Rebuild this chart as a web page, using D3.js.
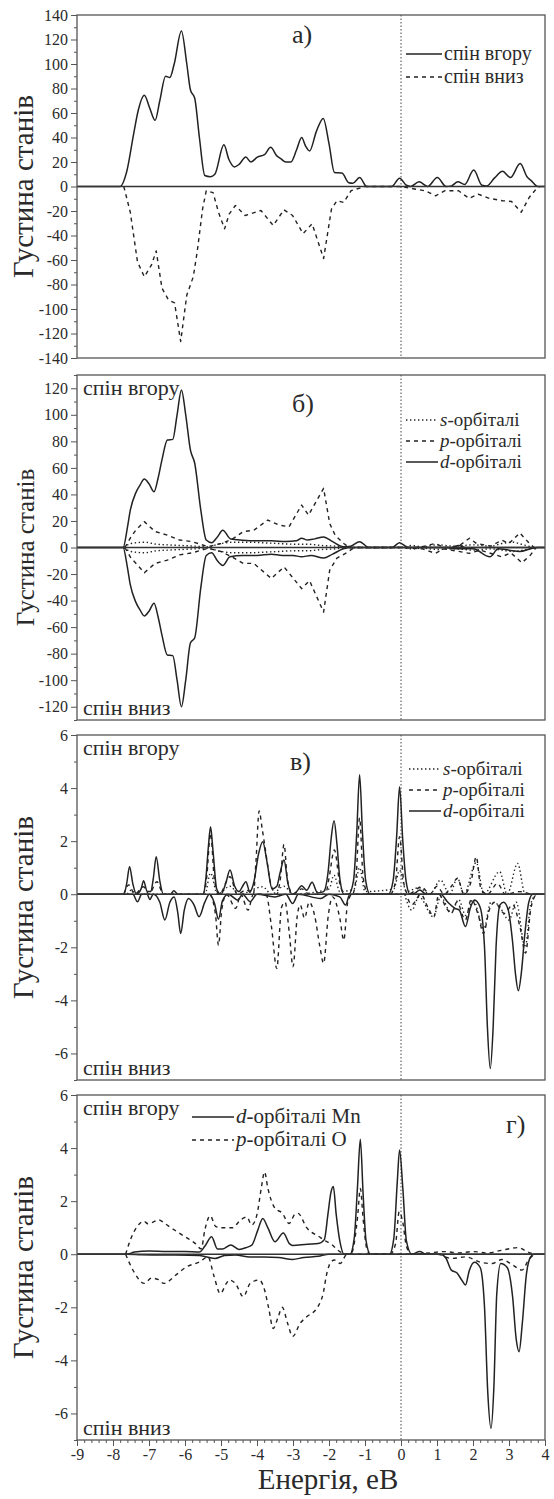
<!DOCTYPE html>
<html><head><meta charset="utf-8">
<script src="https://cdn.jsdelivr.net/npm/d3@7"></script>
<style>
body{margin:0;background:#fff}
svg{display:block}
text{font-family:"Liberation Serif","Times New Roman",serif;fill:#2a2a2a}
</style>
</head><body>
<svg id="c" width="554" height="1499"></svg>
<script>
// ---------------- DATA ----------------
const energyTicks = [-9,-8,-7,-6,-5,-4,-3,-2,-1,0,1,2,3,4];
const yTicksA = [-140,-120,-100,-80,-60,-40,-20,0,20,40,60,80,100,120,140];
const yTicksB = [-120,-100,-80,-60,-40,-20,0,20,40,60,80,100,120];
const yTicksC = [-6,-4,-2,0,2,4,6];

// Panel а) total DOS
const aUp = [[-9,0],[-7.8,0],[-7.62,12],[-7.42,44],[-7.3,62],[-7.13,74.5],[-6.98,64],[-6.83,54],[-6.7,70],[-6.54,90],[-6.42,89],[-6.3,100],[-6.1,127],[-5.95,100],[-5.85,79],[-5.73,72],[-5.6,40],[-5.45,9],[-5.3,8],[-5.17,10],[-4.92,34],[-4.78,22],[-4.63,16],[-4.5,18],[-4.31,24],[-4.17,20],[-3.99,24],[-3.79,26],[-3.62,32],[-3.45,25],[-3.35,23],[-3.2,20],[-3.06,20],[-2.9,30],[-2.76,40],[-2.65,33],[-2.54,29],[-2.35,45],[-2.16,55.6],[-2.0,35],[-1.85,11.5],[-1.64,11],[-1.45,3],[-1.34,2.6],[-1.15,7.3],[-0.95,0],[-0.26,0],[-0.04,6.8],[0.15,1],[0.27,0],[0.5,3.8],[0.74,0],[1.01,7.3],[1.25,0],[1.4,0.5],[1.58,3.8],[1.77,1.6],[2.02,13.4],[2.25,1],[2.38,0.5],[2.6,7],[2.82,12.4],[3.04,7.3],[3.31,18.7],[3.5,8],[3.61,5],[3.8,0],[4,0]];
const aDown = [[-7.7,0],[-7.52,-21],[-7.32,-61.5],[-7.13,-73.7],[-6.93,-64],[-6.8,-52.6],[-6.64,-83],[-6.46,-92.6],[-6.29,-95],[-6.12,-126.5],[-5.95,-88.6],[-5.77,-73.7],[-5.66,-53],[-5.51,-18],[-5.41,-3.5],[-5.22,-5],[-5.07,-21],[-4.9,-34.5],[-4.77,-22.3],[-4.6,-15.5],[-4.33,-23.7],[-3.89,-19.6],[-3.55,-31.8],[-3.25,-19],[-3.01,-23.7],[-2.72,-38.5],[-2.47,-30.4],[-2.15,-58.8],[-1.93,-18.2],[-1.78,-11.6],[-1.59,-13],[-1.39,-3.5],[-1.25,-2.2],[-1.0,0],[0,0],[0.37,-2],[0.67,-3.5],[0.96,-7.6],[1.21,-3.5],[1.6,-3.5],[1.89,-9.7],[2.14,-6.2],[2.43,-9.5],[2.82,-11.6],[3.07,-12.2],[3.34,-21],[3.56,-9],[3.75,-2.2],[3.85,0]];

// Panel б) Mn orbitals
const bDUp = [[-9,0],[-7.72,0],[-7.6,15],[-7.52,28],[-7.37,41],[-7.25,47],[-7.13,51.6],[-7.0,48],[-6.86,42],[-6.75,52],[-6.64,66],[-6.49,81],[-6.34,81.5],[-6.22,100],[-6.1,118.7],[-5.98,100],[-5.85,73.5],[-5.73,63.5],[-5.56,28],[-5.41,5.6],[-5.26,3.6],[-5.1,8],[-4.95,13],[-4.73,6.4],[-4.4,5.5],[-4.0,5],[-3.6,5],[-3.2,4.5],[-2.91,5],[-2.76,7],[-2.6,5.6],[-2.4,6.5],[-2.15,8],[-1.9,4.4],[-1.6,0.6],[-1.4,1],[-1.15,4.4],[-0.9,0],[-0.25,0],[-0.04,3.6],[0.2,0],[1.4,0],[1.6,1.5],[1.8,0],[4,0]];
const bDDown = [[-9,0],[-7.72,0],[-7.6,-15],[-7.52,-28],[-7.37,-41],[-7.25,-47],[-7.13,-51.6],[-7.0,-48],[-6.86,-42],[-6.75,-52],[-6.64,-66],[-6.49,-81],[-6.34,-81.5],[-6.22,-100],[-6.1,-120],[-5.98,-100],[-5.85,-72],[-5.73,-68],[-5.56,-30],[-5.41,-6],[-5.26,-4],[-5.1,-10],[-4.95,-13.5],[-4.75,-7],[-4.4,-6],[-4.0,-6],[-3.6,-5],[-3.3,-6],[-3.0,-6],[-2.76,-7],[-2.5,-6],[-2.15,-8],[-1.9,-5],[-1.6,-1],[-1.4,0],[1.2,0],[1.6,-1],[2.0,-1],[2.47,-7],[2.7,-1],[3.0,-2],[3.3,-3],[3.6,-1],[3.8,0],[4,0]];
const bPUp = [[-7.67,0],[-7.5,8],[-7.37,13],[-7.13,19.5],[-6.83,12],[-6.49,9.3],[-6.15,5.6],[-5.8,4.4],[-5.36,0.6],[-5.0,3],[-4.7,6],[-4.38,12],[-4.09,13],[-3.7,20.7],[-3.4,17],[-3.11,15.6],[-2.76,32],[-2.57,24.4],[-2.15,44.6],[-1.98,18],[-1.83,9.3],[-1.59,3],[-1.44,0],[0,0],[0.5,0],[0.95,3],[1.2,0],[1.6,1],[1.9,7],[2.1,3],[2.5,1],[2.8,5.6],[3.0,3],[3.3,11],[3.55,3.6],[3.7,0]];
const bPDown = [[-7.67,0],[-7.5,-8],[-7.32,-13.2],[-7.13,-19],[-6.83,-12],[-6.49,-9.5],[-6.15,-5.6],[-5.8,-4],[-5.36,-0.6],[-5.0,-3],[-4.7,-7],[-4.38,-12],[-4.09,-12],[-3.6,-23.4],[-3.25,-14.6],[-2.76,-31],[-2.54,-25],[-2.15,-48.7],[-1.98,-17],[-1.78,-8],[-1.54,-4.4],[-1.3,0],[0,0],[0.6,-1],[0.95,-4.4],[1.2,-1],[1.9,-4.4],[2.2,-2],[2.8,-7],[3.05,-4],[3.36,-11.5],[3.6,-5.6],[3.75,0]];
const bSUp = [[-7.7,0],[-7.5,3],[-7.13,4],[-6.8,2.5],[-6.5,2],[-6.1,1.5],[-5.7,1],[-5.4,0.5],[-5.0,3],[-4.6,4],[-4.2,4],[-3.8,3.5],[-3.4,3],[-3.0,2.5],[-2.6,2.5],[-2.2,1.5],[-1.8,1],[-1.5,0],[0,0],[0.3,1.5],[0.6,0.5],[1.0,2],[1.5,1],[2.0,2],[2.5,1],[2.8,3],[3.1,4],[3.4,2],[3.7,0]];
const bSDown = [[-7.7,0],[-7.5,-3],[-7.13,-4],[-6.8,-2.5],[-6.5,-2],[-6.1,-1.5],[-5.7,-1],[-5.4,-0.5],[-5.0,-3],[-4.6,-4],[-4.2,-4],[-3.8,-3.5],[-3.4,-3],[-3.0,-2.5],[-2.6,-2.5],[-2.2,-1.5],[-1.8,-1],[-1.5,0],[0,0],[0.3,-1],[0.6,-0.5],[1.0,-1.5],[1.5,-1],[2.0,-2],[2.5,-1],[2.8,-2],[3.1,-3],[3.4,-2],[3.7,0]];

// Panel в) O orbitals
const cDUp = [[-9,0],[-7.7,0],[-7.62,0.4],[-7.54,1.04],[-7.45,0.4],[-7.35,0],[-7.22,0.2],[-7.15,0.51],[-7.05,0.1],[-6.95,0.1],[-6.88,0.6],[-6.8,1.41],[-6.7,0.5],[-6.6,0],[-6.4,0],[-6.31,0.13],[-6.2,0],[-5.5,0],[-5.42,0.6],[-5.35,1.8],[-5.29,2.54],[-5.22,1.6],[-5.12,0.2],[-5.0,0],[-4.87,0.4],[-4.75,0.91],[-4.62,0.3],[-4.5,0.1],[-4.4,0.3],[-4.31,0.47],[-4.2,0.1],[-4.08,0.5],[-3.96,1.5],[-3.84,1.98],[-3.72,1.2],[-3.58,0.2],[-3.45,0.3],[-3.36,0.8],[-3.25,1.29],[-3.14,0.4],[-3.02,0],[-2.9,0.1],[-2.76,0.32],[-2.62,0.15],[-2.47,0.45],[-2.32,0.05],[-2.15,0.1],[-2.02,0.9],[-1.94,2.1],[-1.86,2.77],[-1.78,1.9],[-1.7,0.6],[-1.58,0],[-1.45,0],[-1.32,0.5],[-1.23,2.3],[-1.15,4.5],[-1.07,2.3],[-0.98,0.5],[-0.86,0],[-0.35,0],[-0.22,0.5],[-0.12,2.2],[-0.04,4.05],[0.05,2.0],[0.14,0.5],[0.25,0],[0.4,0.05],[0.52,0.16],[0.7,0],[4,0]];
const cDDown = [[-9,0],[-7.45,0],[-7.32,-0.28],[-7.2,0],[-7.05,0],[-6.98,-0.2],[-6.88,0],[-6.7,-0.3],[-6.56,-0.97],[-6.42,-0.3],[-6.3,-0.1],[-6.2,-0.7],[-6.12,-1.48],[-6.02,-0.6],[-5.9,-0.16],[-5.75,-0.4],[-5.61,-0.85],[-5.45,-0.3],[-5.32,0],[-5.18,-0.35],[-5.07,-0.94],[-4.96,-0.25],[-4.8,0],[-4.53,-0.22],[-4.4,0],[-4.19,-0.28],[-4.0,0],[-3.5,-0.1],[-3.2,0],[-3.01,-0.35],[-2.85,0],[-2.23,-0.16],[-2.0,0],[-1.7,-0.1],[-1.54,-0.41],[-1.42,0],[1.1,0],[1.3,-0.3],[1.5,-0.53],[1.62,-0.6],[1.79,-1.22],[1.93,-0.5],[2.04,-0.22],[2.2,-0.5],[2.32,-2],[2.4,-5],[2.48,-6.57],[2.56,-5],[2.64,-2],[2.75,-0.4],[2.85,-0.3],[2.98,-0.6],[3.1,-1.8],[3.18,-3],[3.26,-3.64],[3.34,-3],[3.44,-1.5],[3.55,-0.3],[3.66,0],[4,0]];
const cPUp = [[-7.7,0],[-7.56,0.35],[-7.4,0],[-7.15,0.28],[-7.0,0],[-6.78,0.47],[-6.6,0],[-5.5,0],[-5.4,0.6],[-5.29,2.3],[-5.18,0.5],[-5.05,0],[-4.75,0.66],[-4.55,0],[-4.3,0.16],[-4.1,0],[-4.03,1.2],[-3.94,3.14],[-3.86,2.5],[-3.78,1.8],[-3.6,0.3],[-3.45,0],[-3.35,0.6],[-3.25,1.88],[-3.15,0.5],[-3.0,0],[-2.76,0.2],[-2.55,0],[-2.1,0],[-2.0,0.6],[-1.85,1.67],[-1.7,0.4],[-1.55,0],[-1.35,0],[-1.25,0.6],[-1.15,2.88],[-1.05,0.6],[-0.9,0],[-0.3,0],[-0.15,0.5],[-0.04,2.17],[0.08,0.4],[0.2,0],[0.57,0.28],[0.8,0],[1.0,0.3],[1.2,0],[1.4,0.3],[1.57,0.6],[1.75,0],[1.95,0.5],[2.09,1.41],[2.22,0.2],[2.4,0],[2.68,0.4],[2.9,0],[3.3,0.1],[3.6,0]];
const cPDown = [[-5.3,0],[-5.15,-0.8],[-5.07,-1.92],[-4.98,-0.6],[-4.85,0],[-4.59,-0.53],[-4.45,0],[-4.25,-0.6],[-4.1,0],[-3.75,0],[-3.6,-1.2],[-3.45,-2.8],[-3.32,-0.5],[-3.22,-0.3],[-3.1,-1.5],[-3.0,-2.73],[-2.88,-0.8],[-2.8,-0.4],[-2.68,-0.9],[-2.55,-0.3],[-2.4,-0.8],[-2.25,-2.0],[-2.15,-2.6],[-2.02,-0.8],[-1.9,-0.1],[-1.7,-0.9],[-1.59,-1.73],[-1.48,-0.3],[-1.35,0],[0.1,0],[0.3,-0.4],[0.55,0],[0.75,-0.5],[0.91,-0.85],[1.05,0],[1.25,-0.5],[1.4,-0.72],[1.55,-0.3],[1.79,-0.97],[1.95,-0.2],[2.15,-0.8],[2.29,-1.48],[2.45,-0.6],[2.6,-0.3],[2.87,-0.72],[3.1,-0.4],[3.3,-1.2],[3.46,-2.22],[3.6,-0.6],[3.75,0]];
const cSUp = [[-7.6,0],[-7.5,0.15],[-7.3,0],[-5.45,0],[-5.29,0.8],[-5.1,0],[-4.75,0.3],[-4.5,0],[-3.84,0.28],[-3.6,0],[-3.25,0.3],[-3.0,0],[-2.0,0.2],[-1.86,0.72],[-1.7,0.1],[-1.3,0.2],[-1.15,1.0],[-1.0,0.1],[-0.2,0.2],[-0.04,0.9],[0.15,0.1],[0.5,0.25],[0.8,0],[1.1,0.53],[1.35,0],[1.57,0.6],[1.75,0],[2.09,1.2],[2.3,0],[2.74,0.85],[2.95,0],[3.24,1.16],[3.45,0],[4,0]];
const cSDown = [[0.1,0],[0.3,-0.6],[0.5,-0.1],[0.9,-0.85],[1.1,-0.1],[1.4,-0.7],[1.6,-0.2],[1.8,-0.8],[2.0,-0.2],[2.3,-1.3],[2.5,-0.3],[2.7,-0.4],[3.0,-0.97],[3.2,-0.3],[3.45,-2.0],[3.6,-0.4],[3.75,0]];

// Panel г) d of Mn and p of O
const dMnUp = [[-9,0],[-7.62,0],[-7.4,0.08],[-7.0,0.12],[-6.5,0.1],[-6.0,0.1],[-5.6,0.08],[-5.45,0.3],[-5.26,0.66],[-5.1,0.2],[-4.95,0.2],[-4.73,0.35],[-4.5,0.18],[-4.3,0.25],[-4.14,0.35],[-3.98,0.9],[-3.84,1.35],[-3.7,1.0],[-3.5,0.47],[-3.27,0.8],[-3.1,0.4],[-3.01,0.33],[-2.6,0.38],[-2.3,0.4],[-2.13,0.55],[-2.03,1.5],[-1.95,2.3],[-1.88,2.55],[-1.8,1.5],[-1.7,0.5],[-1.58,0],[-1.42,0],[-1.3,0.6],[-1.21,2.5],[-1.13,4.33],[-1.05,2.2],[-0.97,0.5],[-0.85,0],[-0.32,0],[-0.2,0.6],[-0.1,2.8],[-0.04,3.93],[0.05,2.5],[0.15,0.5],[0.3,0],[0.52,0.1],[0.7,0],[4,0]];
const dMnDown = [[-9,0],[-7.62,0],[-7.2,-0.02],[-6.5,-0.03],[-5.6,-0.05],[-5.17,-0.16],[-4.9,-0.05],[-4.6,-0.03],[-4.2,-0.1],[-3.8,-0.1],[-3.4,-0.12],[-3.01,-0.2],[-2.7,-0.12],[-2.3,-0.08],[-2.0,0],[1.1,0],[1.25,-0.15],[1.4,-0.6],[1.55,-0.7],[1.7,-1.0],[1.79,-1.16],[1.9,-0.6],[2.04,-0.3],[2.2,-0.5],[2.32,-2],[2.41,-5.2],[2.5,-6.56],[2.58,-5],[2.66,-1.5],[2.77,-0.35],[2.95,-0.5],[3.1,-1.6],[3.2,-3.2],[3.28,-3.67],[3.37,-2.6],[3.48,-0.8],[3.6,-0.1],[3.7,0],[4,0]];
const pOUp = [[-7.65,0],[-7.5,0.6],[-7.27,1.14],[-7.15,1.25],[-7.03,1.15],[-6.9,1.2],[-6.74,1.3],[-6.55,1.15],[-6.39,1.0],[-6.05,0.7],[-5.71,0.4],[-5.55,0.2],[-5.45,0.9],[-5.3,1.45],[-5.15,1.05],[-5.02,1.0],[-4.68,1.0],[-4.45,1.3],[-4.28,1.4],[-4.15,1.1],[-4.0,1.5],[-3.88,2.5],[-3.79,3.1],[-3.7,2.5],[-3.5,1.73],[-3.3,1.55],[-3.11,1.16],[-2.95,1.5],[-2.86,1.54],[-2.62,1.0],[-2.27,0.66],[-2.1,0.5],[-1.95,0.4],[-1.83,0.25],[-1.7,0.1],[-1.4,0],[-1.3,0.4],[-1.2,1.5],[-1.13,2.48],[-1.05,1.3],[-0.95,0.2],[-0.85,0],[-0.3,0],[-0.15,0.4],[-0.05,1.6],[0.05,1.2],[0.15,0.3],[0.3,0],[0.8,0.05],[1.2,0.1],[1.6,0.05],[2.0,0.1],[2.4,0.05],[2.8,0.15],[3.26,0.25],[3.5,0.1],[3.7,0]];
const pODown = [[-7.65,0],[-7.42,-0.66],[-7.13,-1.1],[-6.93,-0.9],[-6.75,-0.95],[-6.59,-1.1],[-6.25,-0.78],[-5.95,-0.47],[-5.61,-0.3],[-5.36,-0.1],[-5.2,-0.8],[-5.02,-1.48],[-4.85,-1.1],[-4.77,-0.97],[-4.6,-1.1],[-4.38,-1.6],[-4.19,-1.1],[-3.94,-0.97],[-3.8,-1.3],[-3.68,-2.0],[-3.55,-2.8],[-3.42,-2.4],[-3.3,-2.0],[-3.15,-2.6],[-3.01,-3.1],[-2.8,-2.6],[-2.62,-2.36],[-2.32,-2.0],[-2.15,-1.4],[-2.08,-0.85],[-1.95,-0.3],[-1.85,-0.22],[-1.69,-0.35],[-1.5,0],[1.0,0],[1.4,-0.16],[1.8,-0.1],[2.2,-0.3],[2.53,-0.35],[2.8,-0.2],[3.1,-0.4],[3.36,-0.6],[3.55,-0.2],[3.7,0]];

// ---------------- DRAW ----------------
const svg = d3.select('#c');
const X0 = 77, X1 = 545;
const x = d3.scaleLinear().domain([-9,4]).range([X0, X1]);
const INK = '#222', AX = '#555';
const STY = {
  solid:{dash:null,w:1.5},
  dash:{dash:'4,4',w:1.4},
  dot:{dash:'1.4,2.6',w:1.4}
};

const panels = [
  {id:'a', dom:[-140,140], top:15, bot:358, major:yTicksA, minorStep:10, title:29, titleX:23, label:'а)', lx:292, ly:43,
   series:[[aUp,'solid','linear'],[aDown,'dash','linear']],
   legend:{x:406, y:54, dy:23, fs:20, len:36, items:[['solid','','спін вгору'],['dash','','спін вниз']]}},
  {id:'b', dom:[-130,130], top:375, bot:720, major:yTicksB, minorStep:10, title:25, titleX:25, label:'б)', lx:292, ly:412,
   series:[[bSUp,'dot'],[bSDown,'dot'],[bPUp,'dash','linear'],[bPDown,'dash','linear'],[bDUp,'solid'],[bDDown,'solid']],
   legend:{x:406, y:420, dy:21, fs:19, len:32, items:[['dot','s','-орбіталі'],['dash','p','-орбіталі'],['solid','d','-орбіталі']]},
   spin:true},
  {id:'c', dom:[-7,6], top:735, bot:1080, major:yTicksC, minorStep:1, title:29, titleX:23, label:'в)', lx:290, ly:770,
   series:[[cSUp,'dot'],[cSDown,'dot'],[cPUp,'dash'],[cPDown,'dash'],[cDUp,'solid'],[cDDown,'solid']],
   legend:{x:409, y:769, dy:21, fs:19, len:32, items:[['dot','s','-орбіталі'],['dash','p','-орбіталі'],['solid','d','-орбіталі']]},
   spin:true},
  {id:'d', dom:[-7,6], top:1095, bot:1440, major:yTicksC, minorStep:1, title:29, titleX:23, label:'г)', lx:506, ly:1133,
   series:[[pOUp,'dash'],[pODown,'dash'],[dMnUp,'solid'],[dMnDown,'solid']],
   legend:{x:192, y:1117, dy:23, fs:21, len:42, items:[['solid','d','-орбіталі Mn'],['dash','p','-орбіталі O']]},
   spin:true, xaxis:true}
];

panels.forEach(p => {
  const y = d3.scaleLinear().domain(p.dom).range([p.bot, p.top]);
  const g = svg.append('g');
  const clipId = 'clip-' + p.id;
  g.append('clipPath').attr('id', clipId).append('rect')
    .attr('x', X0).attr('y', p.top).attr('width', X1 - X0).attr('height', p.bot - p.top);

  // Fermi level
  g.append('line').attr('x1', x(0)).attr('x2', x(0)).attr('y1', p.top).attr('y2', p.bot)
    .attr('stroke', '#444').attr('stroke-width', 1).attr('stroke-dasharray', '1.5,2');

  // curves
  const cg = g.append('g').attr('clip-path', `url(#${clipId})`);
  p.series.forEach(([data, st, cv]) => {
    const line = d3.line().x(d => x(d[0])).y(d => y(d[1]))
      .curve(cv === 'linear' && st !== 'solid' ? d3.curveLinear : d3.curveMonotoneX);
    cg.append('path').datum(data).attr('d', line).attr('fill', 'none')
      .attr('stroke', INK).attr('stroke-width', STY[st].w)
      .attr('stroke-dasharray', STY[st].dash).attr('stroke-linejoin', 'round');
  });

  // zero line
  g.append('line').attr('x1', X0).attr('x2', X1).attr('y1', y(0)).attr('y2', y(0))
    .attr('stroke', '#333').attr('stroke-width', 1.4);

  // y axis minor + major
  const minor = d3.range(p.dom[0], p.dom[1] + 1e-9, p.minorStep).filter(v => !p.major.includes(v));
  g.append('g').attr('transform', `translate(${X0},0)`)
    .call(d3.axisLeft(y).tickValues(minor).tickSize(3).tickFormat(''))
    .call(s => { s.select('.domain').remove(); s.selectAll('line').attr('stroke', AX); });
  g.append('g').attr('transform', `translate(${X0},0)`)
    .call(d3.axisLeft(y).tickValues(p.major).tickSize(6).tickPadding(3).tickFormat(d => String(d)))
    .call(s => { s.select('.domain').remove(); s.selectAll('line').attr('stroke', AX);
      s.selectAll('text').attr('font-size', 16).attr('font-family', '"Liberation Serif",serif').attr('fill', '#333'); });

  if (p.xaxis) {
    const minX = d3.range(-9, 4.0001, 0.2).map(v => Math.round(v * 10) / 10).filter(v => !energyTicks.includes(v));
    g.append('g').attr('transform', `translate(0,${p.bot})`)
      .call(d3.axisBottom(x).tickValues(minX).tickSize(3).tickFormat(''))
      .call(s => { s.select('.domain').remove(); s.selectAll('line').attr('stroke', AX); });
    g.append('g').attr('transform', `translate(0,${p.bot})`)
      .call(d3.axisBottom(x).tickValues(energyTicks).tickSize(6).tickPadding(3).tickFormat(d => String(d)))
      .call(s => { s.select('.domain').remove(); s.selectAll('line').attr('stroke', AX);
        s.selectAll('text').attr('font-size', 16).attr('font-family', '"Liberation Serif",serif').attr('fill', '#333'); });
    svg.append('text').attr('x', 328).attr('y', 1489).attr('text-anchor', 'middle')
      .attr('font-size', 29).text('Енергія, еВ');
  }

  // frame
  g.append('rect').attr('x', X0).attr('y', p.top).attr('width', X1 - X0).attr('height', p.bot - p.top)
    .attr('fill', 'none').attr('stroke', AX).attr('stroke-width', 1.3);

  // y title
  g.append('text').attr('transform', `translate(${p.titleX},${(p.top + p.bot) / 2}) rotate(-90)`)
    .attr('text-anchor', 'middle').attr('dominant-baseline', 'central')
    .attr('font-size', p.title).text('Густина станів');

  // panel label
  g.append('text').attr('x', p.lx).attr('y', p.ly).attr('font-size', 26).text(p.label);

  // spin labels
  if (p.spin) {
    g.append('text').attr('x', 83).attr('y', p.top + 20).attr('font-size', 22).text('спін вгору');
    g.append('text').attr('x', 83).attr('y', p.bot - 5).attr('font-size', 22).text('спін вниз');
  }

  // legend
  const L = p.legend;
  L.items.forEach(([st, it, rest], i) => {
    const yy = L.y + i * L.dy;
    g.append('line').attr('x1', L.x).attr('x2', L.x + L.len).attr('y1', yy).attr('y2', yy)
      .attr('stroke', INK).attr('stroke-width', STY[st].w).attr('stroke-dasharray', STY[st].dash);
    const t = g.append('text').attr('x', L.x + L.len + 2).attr('y', yy).attr('dy', '0.3em').attr('font-size', L.fs);
    if (it) t.append('tspan').attr('font-style', 'italic').text(it);
    t.append('tspan').text(rest);
  });
});
</script>
</body></html>
